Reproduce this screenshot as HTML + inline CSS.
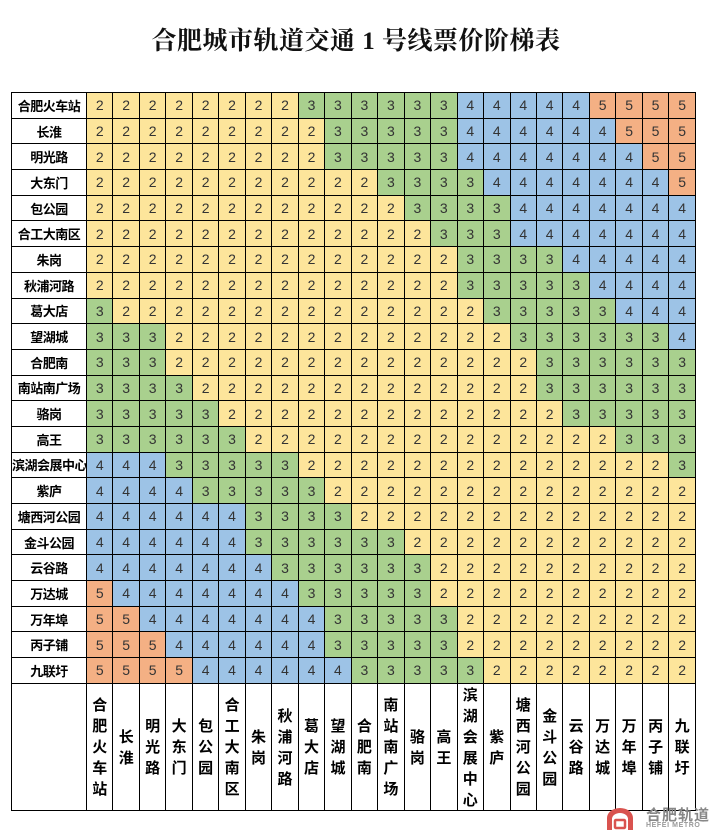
<!DOCTYPE html>
<html><head><meta charset="utf-8">
<style>
*{margin:0;padding:0;box-sizing:border-box}
body{width:712px;height:830px;background:#fff;position:relative;overflow:hidden;font-family:"Liberation Sans","Noto Sans CJK SC",sans-serif}
h1{position:absolute;left:0;width:712px;top:25px;text-align:center;font:bold 25px "Liberation Serif","Noto Serif CJK SC",serif;color:#111;letter-spacing:0.5px;line-height:34px}
table{position:absolute;left:11px;top:92px;width:685px;border-collapse:collapse;table-layout:fixed}
td{border:1px solid #000;text-align:center;font-size:14px;color:#333;height:25.7px;padding:0;line-height:20px;white-space:nowrap;overflow:hidden}
td.n{font:bold 13px "Noto Sans CJK SC",sans-serif;color:#000;background:#fff;letter-spacing:-0.5px}
td.a{background:#fde59b}
td.b{background:#a9d08e}
td.c{background:#9dc3e6}
td.d{background:#f4b084}
tr.h td{height:125px;background:#fff;font:bold 15px "Noto Sans CJK SC",sans-serif;color:#000;line-height:21px;vertical-align:middle;white-space:normal}
.logo{position:absolute;left:606px;top:808px;width:28px;height:22px}
.lt{position:absolute;left:646px;top:806px;font:bold 15px "Noto Sans CJK SC",sans-serif;color:#888;letter-spacing:1px;line-height:18px}
.ls{position:absolute;left:646px;top:822px;font:bold 7px "Liberation Sans",sans-serif;color:#999;letter-spacing:0.6px;line-height:8px}
</style></head><body>
<h1>合肥城市轨道交通 1 号线票价阶梯表</h1>
<table id="t">
<colgroup><col style="width:75px"><col span="23"></colgroup>
<tbody id="tb"></tbody>
</table>
<svg class="logo" viewBox="0 0 28 22"><path d="M1 22V10A13 10 0 0 1 27 10V22H22V11A8 6 0 0 0 6 11V22Z" fill="#d9534f"/><rect x="9" y="12" width="10" height="8" rx="1" fill="none" stroke="#d9534f" stroke-width="2.5"/></svg>
<div class="lt">合肥轨道</div>
<div class="ls">HEFEI METRO</div>
<script>
var names=["合肥火车站","长淮","明光路","大东门","包公园","合工大南区","朱岗","秋浦河路","葛大店","望湖城","合肥南","南站南广场","骆岗","高王","滨湖会展中心","紫庐","塘西河公园","金斗公园","云谷路","万达城","万年埠","丙子铺","九联圩"];
var R=[
[[2,8],[3,6],[4,5],[5,4]],
[[2,9],[3,5],[4,6],[5,3]],
[[2,9],[3,5],[4,7],[5,2]],
[[2,11],[3,4],[4,7],[5,1]],
[[2,12],[3,4],[4,7]],
[[2,13],[3,3],[4,7]],
[[2,14],[3,4],[4,5]],
[[2,14],[3,5],[4,4]],
[[3,1],[2,14],[3,5],[4,3]],
[[3,3],[2,13],[3,6],[4,1]],
[[3,3],[2,14],[3,6]],
[[3,4],[2,13],[3,6]],
[[3,5],[2,13],[3,5]],
[[3,6],[2,14],[3,3]],
[[4,3],[3,5],[2,14],[3,1]],
[[4,4],[3,5],[2,14]],
[[4,6],[3,4],[2,13]],
[[4,6],[3,6],[2,11]],
[[4,7],[3,6],[2,10]],
[[5,1],[4,7],[3,5],[2,10]],
[[5,2],[4,7],[3,5],[2,9]],
[[5,3],[4,6],[3,5],[2,9]],
[[5,4],[4,6],[3,5],[2,8]]];
var cls={2:"a",3:"b",4:"c",5:"d"};
var h="";
for(var i=0;i<23;i++){h+='<tr><td class="n">'+names[i]+'</td>';
R[i].forEach(function(s){for(var k=0;k<s[1];k++)h+='<td class="'+cls[s[0]]+'">'+s[0]+'</td>';});
h+='</tr>';}
h+='<tr class="h"><td></td>';
names.forEach(function(n){h+='<td>'+n.split("").join("<br>")+'</td>';});
h+='</tr>';
document.getElementById("tb").innerHTML=h;
</script>
</body></html>
